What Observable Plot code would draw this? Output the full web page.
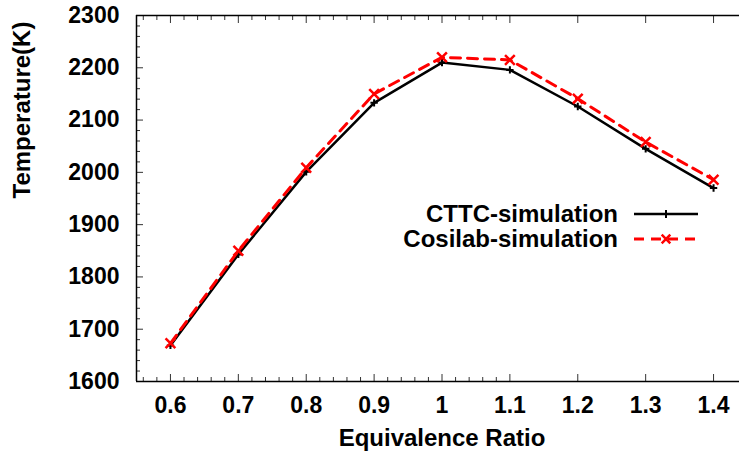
<!DOCTYPE html>
<html>
<head>
<meta charset="utf-8">
<script src="https://cdn.jsdelivr.net/npm/d3@7"></script>
<script src="https://cdn.jsdelivr.net/npm/@observablehq/plot@0.6"></script>
<style>
  html, body { margin: 0; padding: 0; background: #fff; }
  #chart svg { display: block; }
</style>
</head>
<body>
<div id="chart"></div>
<script>
// Adiabatic flame temperature against equivalence ratio
const ratio = [0.6, 0.7, 0.8, 0.9, 1.0, 1.1, 1.2, 1.3, 1.4];
const cttc = [1669, 1843, 2001, 2133, 2210, 2196, 2126, 2045, 1970];
const cosilab = [1673, 1850, 2009, 2150, 2220, 2215, 2141, 2058, 1986];
const seriesNames = ["CTTC-simulation", "Cosilab-simulation"];

const xMajor = [0.6, 0.7, 0.8, 0.9, 1, 1.1, 1.2, 1.3, 1.4];
const xMinor = d3.range(28).map(i => +(0.56 + i * 0.02).toFixed(2)).filter(v => !xMajor.some(m => Math.abs(m - v) < 1e-9));
const yMajor = [1600, 1700, 1800, 1900, 2000, 2100, 2200, 2300];
const yMinor = d3.range(1600, 2301, 20).filter(v => v % 100 !== 0);

const rowsA = ratio.map((r, i) => ({r, t: cttc[i]}));
const rowsB = ratio.map((r, i) => ({r, t: cosilab[i]}));

const font = "'Liberation Sans', Arial, Helvetica, sans-serif";
const tickColor = "#333";

const plot = Plot.plot({
  width: 739,
  height: 456,
  marginLeft: 136,
  marginRight: -8,
  marginTop: 15,
  marginBottom: 75,
  style: {fontFamily: font, fontWeight: "bold", background: "#fff", color: "#000"},
  x: {domain: [0.55, 1.45]},
  y: {domain: [1600, 2300]},
  marks: [
    // inward ticks, bottom and top
    Plot.axisX(xMajor, {anchor: "bottom", tickSize: -7, fill: "none", stroke: tickColor}),
    Plot.axisX(xMinor, {anchor: "bottom", tickSize: -4, fill: "none", stroke: tickColor}),
    Plot.axisX(xMajor, {anchor: "top", tickSize: -7, fill: "none", stroke: tickColor}),
    Plot.axisX(xMinor, {anchor: "top", tickSize: -4, fill: "none", stroke: tickColor}),
    Plot.axisY(yMajor, {anchor: "left", tickSize: -7, fill: "none", stroke: tickColor}),
    Plot.axisY(yMinor, {anchor: "left", tickSize: -4, fill: "none", stroke: tickColor}),
    // tick labels
    Plot.axisX(xMajor, {anchor: "bottom", tickSize: 0, tickPadding: 15, fontSize: 23, label: null, tickFormat: d => String(d)}),
    Plot.axisY(yMajor, {anchor: "left", tickSize: 0, tickPadding: 17, fontSize: 23, label: null, tickFormat: d => String(d)}),
    // frame: left, bottom, top
    Plot.ruleX([0.55], {stroke: "#000", strokeWidth: 1.5}),
    Plot.ruleY([1600, 2300], {stroke: "#000", strokeWidth: 1.5}),
    // series
    Plot.line(rowsA, {x: "r", y: "t", stroke: "#000", strokeWidth: 2.5}),
    Plot.dot(rowsA, {x: "r", y: "t", symbol: "plus", r: 2.5, stroke: "#000", strokeWidth: 2}),
    Plot.line(rowsB, {x: "r", y: "t", stroke: "#ff0000", strokeWidth: 3, strokeDasharray: "10,7"}),
    Plot.dot(rowsB, {x: "r", y: "t", symbol: "times", r: 4.5, stroke: "#ff0000", strokeWidth: 2.5}),
    // axis titles
    Plot.text(["Equivalence Ratio"], {frameAnchor: "bottom", dy: 64, fontSize: 24, text: d => d}),
    Plot.text(["Temperature(K)"], {frameAnchor: "left", dx: -114, rotate: -90, fontSize: 24, text: d => d})
  ]
});

document.getElementById("chart").appendChild(plot);

// key in the right half of the plot
const svg = d3.select(plot);
const key = svg.append("g").attr("font-family", font).attr("font-weight", "bold").attr("font-size", 24);
const keyRows = [
  {name: seriesNames[0], y: 214, color: "#000", dash: null, width: 2.5, sym: d3.symbolPlus, size: 22},
  {name: seriesNames[1], y: 239, color: "#ff0000", dash: "10,7", width: 3, sym: d3.symbolTimes, size: 50}
];
keyRows.forEach(k => {
  key.append("text").attr("x", 618).attr("y", k.y).attr("dy", "0.34em")
    .attr("text-anchor", "end").attr("fill", "#000").text(k.name);
  key.append("line").attr("x1", 634).attr("x2", 698).attr("y1", k.y).attr("y2", k.y)
    .attr("stroke", k.color).attr("stroke-width", k.width).attr("stroke-dasharray", k.dash);
  key.append("path").attr("d", d3.symbol(k.sym, k.size)()).attr("transform", `translate(666,${k.y})`)
    .attr("fill", "none").attr("stroke", k.color).attr("stroke-width", k.width - 0.5);
});
</script>
</body>
</html>
